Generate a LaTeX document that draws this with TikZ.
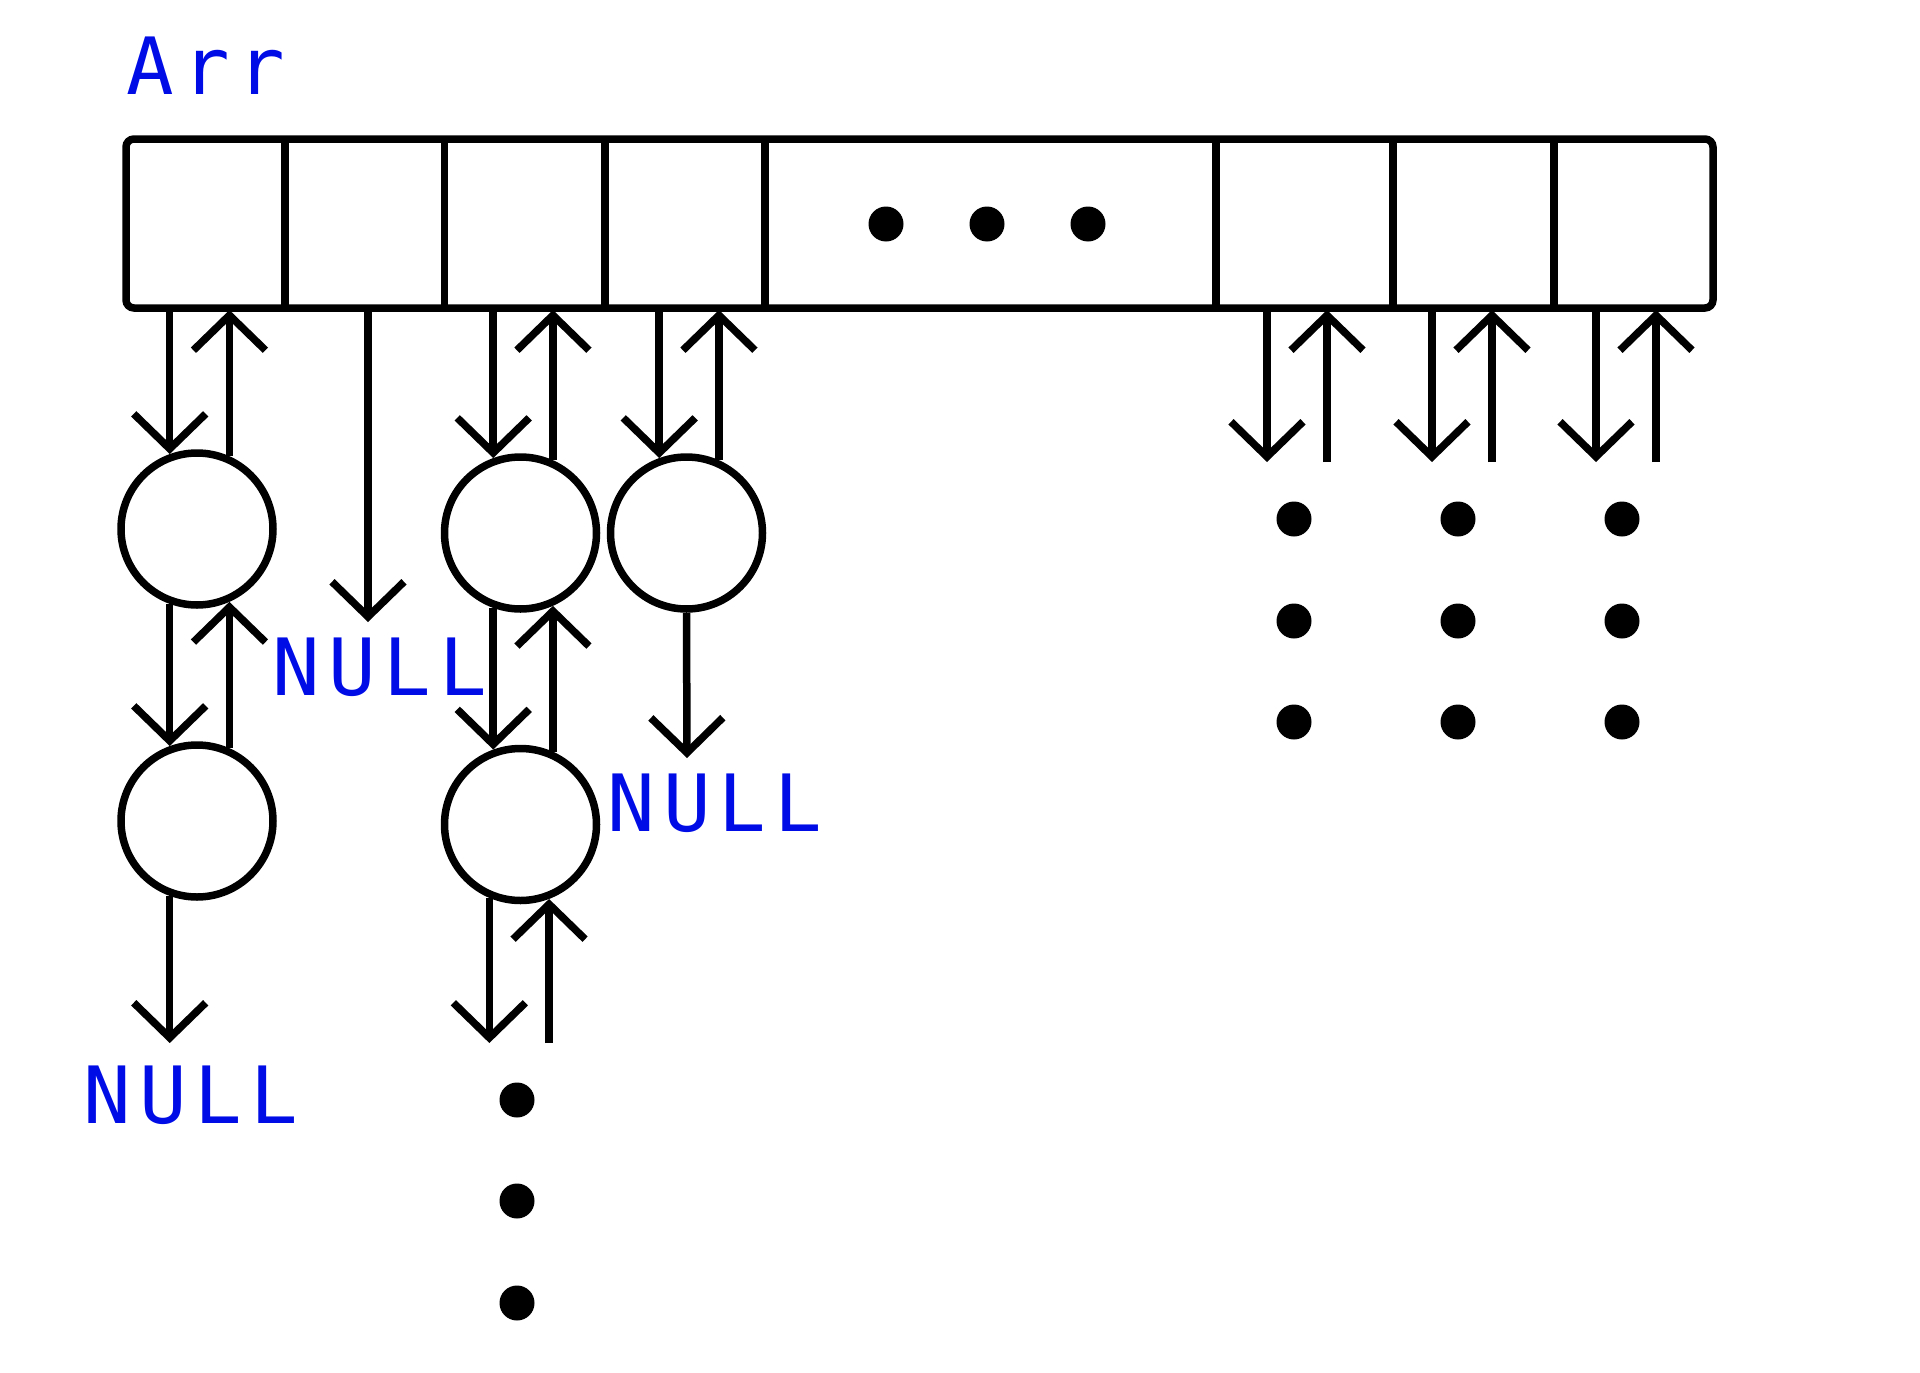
\documentclass[tikz,border=0pt]{standalone}
\usepackage{fontspec}
\newfontfamily\labfont{DejaVu Sans Mono}
\usetikzlibrary{arrows.meta}
\definecolor{labblue}{RGB}{0,12,230}
\begin{document}
\begin{tikzpicture}[x=1pt,y=-1pt,line width=7.5pt,
  arr/.style={-{Straight Barb[length=35pt,width=72pt]}},
  lnode/.style={circle,draw,minimum size=152pt,inner sep=0pt},
  lab/.style={text=labblue,font=\labfont\fontsize{79}{79}\selectfont,inner sep=0pt},
  dotn/.style={circle,fill,minimum size=35pt,inner sep=0pt,draw=none}]
\useasboundingbox (0,0) rectangle (1920,1373);
% array
\draw[rounded corners=8pt] (126,139) rectangle (1713,308);
\foreach \x in {285,444.5,605,765,1216,1393,1554} \draw (\x,139) -- (\x,308);
\coordinate (bot) at (0,310);
\node[dotn] (d1) at (886,224) {};
\node[dotn] (d2) at (987,224) {};
\node[dotn] (d3) at (1088,224) {};
% list nodes
\node[lnode] (c1) at (197,529) {};
\node[lnode] (c2) at (197,821) {};
\node[lnode] (c3) at (520.5,533) {};
\node[lnode] (c4) at (520.5,824.5) {};
\node[lnode] (c5) at (686.5,533) {};
% column 1
\draw[arr] (c1.110 |- bot) -- (c1.110);
\draw[arr] (c1.66) -- (c1.66 |- bot);
\draw[arr] (c1.250) -- (c2.110);
\draw[arr] (c2.66) -- (c1.294);
\coordinate (e1) at (0,1043);
\draw[arr] (c2.250) -- (c2.250 |- e1);
% column 2
\coordinate (e2) at (368,622);
\draw[arr] (e2 |- bot) -- (e2);
% column 3
\draw[arr] (c3.110 |- bot) -- (c3.110);
\draw[arr] (c3.66) -- (c3.66 |- bot);
\draw[arr] (c3.250) -- (c4.110);
\draw[arr] (c4.66) -- (c3.294);
\draw[arr] (c4.247.6) -- (c4.247.6 |- e1);
\draw[arr] (c4.291.6 |- e1) -- (c4.291.6);
% column 4
\coordinate (e4) at (687,758);
\draw[arr] (c5.south) -- (e4);
\draw[arr] (c5.110 |- bot) -- (c5.110);
\draw[arr] (c5.66) -- (c5.66 |- bot);
% right columns
\foreach \dx/\ux [count=\i] in {1267/1327,1432/1492,1596/1656}{
  \coordinate (rd\i) at (\dx,462);
  \coordinate (ru\i) at (\ux,462);
  \draw[arr] (rd\i |- bot) -- (rd\i);
  \draw[arr] (ru\i) -- (ru\i |- bot);
}
% vertical dots
\foreach \y [count=\j] in {1100,1201,1303} \node[dotn] (v\j) at (517,\y) {};
\foreach \x [count=\i] in {1294,1458,1622}
  \foreach \y [count=\j] in {519,621,722} \node[dotn] (r\i\j) at (\x,\y) {};
% labels
\node[lab] (arrlab) at (206,66) {A\kern8pt r\kern8pt r};
\node[lab] (null1) at (380,667.5) {N\kern8pt U\kern8pt L\kern8pt L};
\node[lab] (null2) at (715,803.5) {N\kern8pt U\kern8pt L\kern8pt L};
\node[lab] (null3) at (191,1095.5) {N\kern8pt U\kern8pt L\kern8pt L};
\end{tikzpicture}
\end{document}
